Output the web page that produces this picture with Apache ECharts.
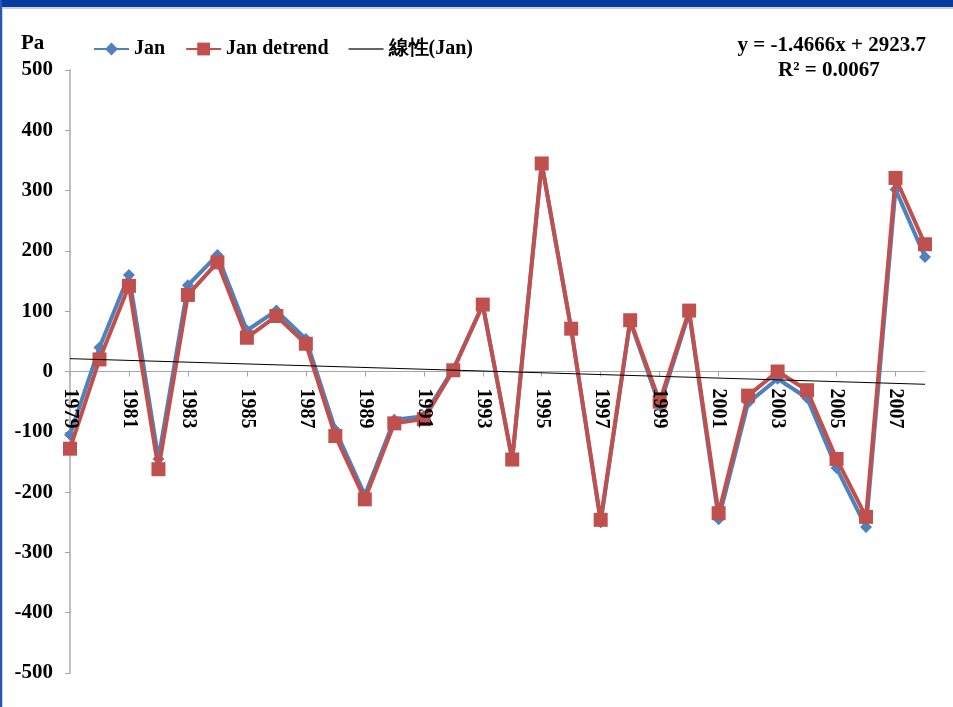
<!DOCTYPE html>
<html>
<head>
<meta charset="utf-8">
<script src="https://cdn.jsdelivr.net/npm/echarts@6/dist/echarts.min.js"></script>
<style>
html,body{margin:0;padding:0;background:#fff;}
#chart{width:953px;height:707px;}
</style>
</head>
<body>
<div id="chart"></div>
<script>
const years = ['1979','1980','1981','1982','1983','1984','1985','1986','1987','1988','1989','1990','1991','1992','1993','1994','1995','1996','1997','1998','1999','2000','2001','2002','2003','2004','2005','2006','2007','2008'];
const janValues = [-105, 40, 160, -145, 143, 193, 68, 101, 54, -97, -205, -80, -74, 4, 110, -146, 345, 70, -250, 83, -57, 97, -245, -52, -12, -44, -160, -258, 302, 190];
const janDetrendValues = [-128, 20, 142, -162, 127, 181, 56, 92, 46, -107, -212, -86, -79, 2, 111, -146, 345, 71, -246, 85, -50, 101, -235, -40, 0, -31, -145, -241, 321, 211];
const trendEnds = [['1979', 21.3], ['2008', -21.2]];
const yTicks = {min: -500, max: 500, interval: 100};
const seriesNames = ['Jan', 'Jan detrend', '線性(Jan)'];
const yearLabels = years.filter((y, i) => i % 2 === 0);

const FONT = '"Liberation Serif", "Times New Roman", serif';
const chart = echarts.init(document.getElementById('chart'), null, {renderer: 'canvas'});

const baseGraphics = [
  {type: 'rect', shape: {x: 0, y: 0, width: 953, height: 7}, style: {fill: '#063a9c'}, z: 100},
  {type: 'rect', shape: {x: 0, y: 7, width: 953, height: 2}, style: {fill: '#c8cfe0'}, z: 100},
  {type: 'rect', shape: {x: 0, y: 0, width: 2, height: 707}, style: {fill: '#2a55b8'}, z: 100},
  {type: 'rect', shape: {x: 2, y: 9, width: 1, height: 698}, style: {fill: '#c8cfe0'}, z: 100},
  {type: 'text', left: 21, top: 33, style: {text: 'Pa', font: 'bold 21px ' + FONT, fill: '#000'}},
  {type: 'text', right: 27, top: 35, style: {text: 'y = -1.4666x + 2923.7', font: 'bold 21px ' + FONT, fill: '#000'}},
  {type: 'text', left: 778, top: 60, style: {text: 'R² = 0.0067', font: 'bold 21px ' + FONT, fill: '#000'}}
];

chart.setOption({
  backgroundColor: '#ffffff',
  animation: false,
  grid: {left: 70, right: 28, top: 70, bottom: 34, containLabel: false},
  legend: {
    left: 88, top: 34, itemGap: 20, itemWidth: 35, itemHeight: 16,
    textStyle: {fontFamily: FONT, fontWeight: 'bold', fontSize: 20, color: '#000', padding: [0,0,0,0]},
    data: [
      {name: seriesNames[0]},
      {name: seriesNames[1]},
      {name: seriesNames[2], icon: 'path://M0,0 H35 V1.3 H0 Z', itemStyle: {color: '#303030'}}
    ]
  },
  xAxis: {
    type: 'category',
    data: years,
    boundaryGap: false,
    axisLine: {onZero: true, lineStyle: {color: '#a6a6a6', width: 1}},
    axisTick: {show: true, interval: 1, length: 5, lineStyle: {color: '#a6a6a6'}},
    axisLabel: {show: false},
    splitLine: {show: false}
  },
  yAxis: {
    type: 'value',
    min: yTicks.min, max: yTicks.max, interval: yTicks.interval,
    axisLine: {show: true, lineStyle: {color: '#bfbfbf', width: 2}},
    axisTick: {show: true, length: 5, lineStyle: {color: '#a6a6a6'}},
    axisLabel: {margin: 17, fontFamily: FONT, fontWeight: 'bold', fontSize: 21, color: '#000'},
    splitLine: {show: false}
  },
  series: [
    {
      name: seriesNames[0], type: 'line', data: janValues,
      symbol: 'diamond', symbolSize: 12,
      lineStyle: {color: '#4F81BD', width: 4},
      itemStyle: {color: '#4F81BD'},
      z: 3
    },
    {
      name: seriesNames[1], type: 'line', data: janDetrendValues,
      symbol: 'rect', symbolSize: 14,
      lineStyle: {color: '#C0504D', width: 4},
      itemStyle: {color: '#C0504D'},
      z: 4
    },
    {
      name: seriesNames[2], type: 'line', data: trendEnds,
      symbol: 'none',
      lineStyle: {color: '#000', width: 1},
      itemStyle: {color: '#000'},
      z: 5
    }
  ],
  graphic: baseGraphics
});

// Rotated year labels placed at the zero line through the library's own scales
const zeroY = chart.convertToPixel({yAxisIndex: 0}, 0);
const labelGraphics = yearLabels.map(y => {
  const px = chart.convertToPixel({xAxisIndex: 0}, y);
  return {
    type: 'text', x: px, y: zeroY + 17, rotation: -Math.PI / 2,
    style: {text: y, font: 'bold 20px ' + FONT, fill: '#000', align: 'left', verticalAlign: 'middle'},
    z: 50
  };
});
chart.setOption({graphic: baseGraphics.concat(labelGraphics)});
</script>
</body>
</html>
